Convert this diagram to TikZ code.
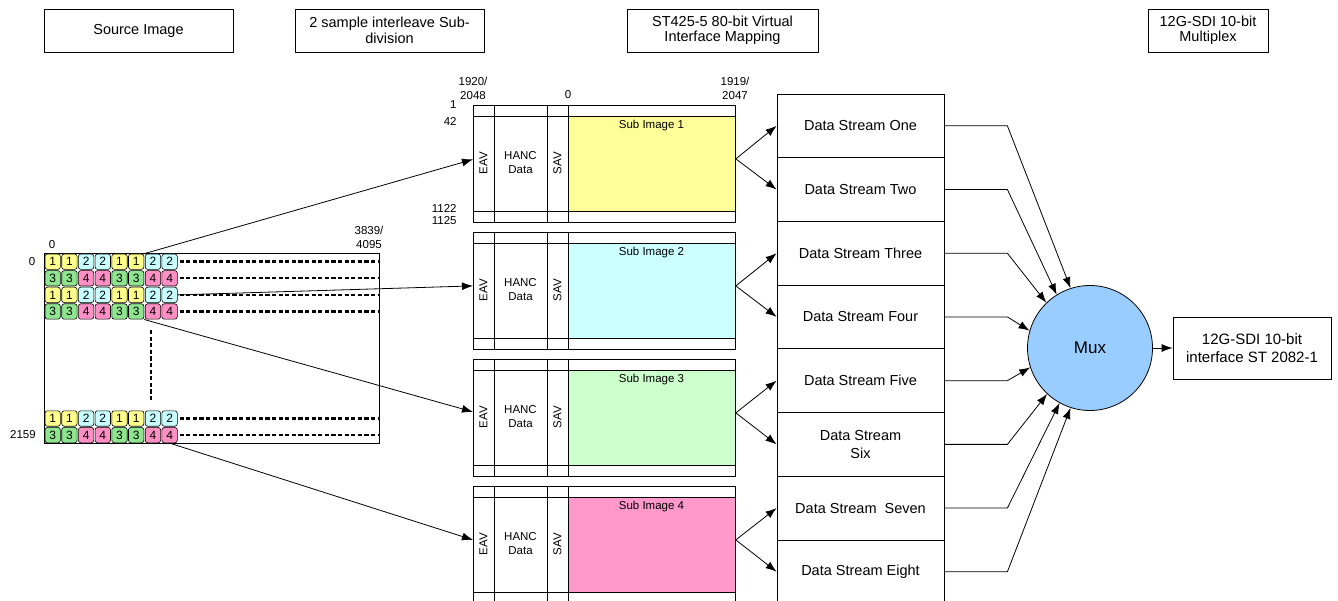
\documentclass[tikz,border=0pt]{standalone}
\usepackage{fontspec}
\setmainfont{Liberation Sans}
\usetikzlibrary{arrows.meta}
\definecolor{cc1}{HTML}{FFFF8C}
\definecolor{cc2}{HTML}{C8FFFF}
\definecolor{cc3}{HTML}{8FE48F}
\definecolor{cc4}{HTML}{FF8FC4}
\definecolor{sub1}{HTML}{FFFF99}
\definecolor{sub2}{HTML}{CCFFFF}
\definecolor{sub3}{HTML}{CCFFCC}
\definecolor{sub4}{HTML}{FF99CC}
\definecolor{muxblue}{HTML}{99CCFF}
\begin{document}
\begin{tikzpicture}[x=1pt,y=-1pt,
  every path/.style={line width=0.8pt},
  hdr/.style={draw, line width=0.8pt, minimum height=43pt, inner sep=0pt, align=center, font=\fontsize{14.5}{15.5}\selectfont},
  lbl/.style={inner sep=0pt, align=center, font=\fontsize{11.5}{14}\selectfont},
  cell/.style={draw, line width=0.6pt, rounded corners=2.5pt, minimum size=15.4pt, inner sep=0pt, font=\fontsize{12}{12}\selectfont},
  dashln/.style={line width=2.4pt, dash pattern=on 4.2pt off 2.4pt},
  frame/.style={draw, line width=0.8pt, minimum width=262pt, minimum height=117pt, anchor=north west, inner sep=0pt},
  stream/.style={draw, line width=0.8pt, minimum width=167pt, minimum height=63.7pt, inner sep=0pt, align=center, font=\fontsize{14.5}{18}\selectfont},
  arr/.style={-{Latex[length=11pt,width=8pt]}, line width=0.8pt}
]
\useasboundingbox (0,0) rectangle (1338,601);

% headers
\node[hdr, minimum width=189pt] (h1) at (138.5,30.5) {Source Image};
\node[hdr, minimum width=189pt] (h2) at (389.5,30.5) {2 sample interleave Sub-\\division};
\node[hdr, minimum width=191pt] (h3) at (722.5,30.5) {ST425-5 80-bit Virtual\\Interface Mapping};
\node[hdr, minimum width=120pt] (h4) at (1208,30.5) {12G-SDI 10-bit\\Multiplex};

% source image
\node[draw, anchor=north west, minimum width=335pt, minimum height=190pt, inner sep=0pt] (src) at (44,253) {};
\node[lbl] (l0a) at (52,245) {0};
\node[lbl] (l3839) at (369,237.5) {3839/\\4095};
\node[lbl] (l0b) at (32,262) {0};
\node[lbl] (l2159) at (23,435) {2159};

\foreach \r/\y/\base in {1/261.7/1,2/278.3/3,3/294.9/1,4/311.5/3,5/418.5/1,6/435.1/3}{
  \foreach \k in {1,...,8}{
    \pgfmathtruncatemacro{\d}{\base + mod(floor((\k-1)/2),2)}
    \node[cell, fill=cc\d] (c-\r-\k) at ({52.7+(\k-1)*16.7},\y) {\d};
  }
  \draw[dashln] ([xshift=2pt]c-\r-8.east) -- (c-\r-8.east -| src.east);
}
\draw[dashln] (151,330) -- (151,402);

% frames
\foreach \i/\col in {1/sub1,2/sub2,3/sub3,4/sub4}{
  \pgfmathsetmacro{\T}{105+(\i-1)*127}
  \fill[\col] (568,\T+11) rectangle (735,\T+106);
  \node[frame] (f\i) at (473,\T) {};
  \draw (473,\T+11) -- (735,\T+11);
  \draw (473,\T+106) -- (735,\T+106);
  \draw (494,\T) -- (494,\T+117);
  \draw (547,\T) -- (547,\T+117);
  \draw (568,\T) -- (568,\T+117);
  \node[lbl, rotate=90] (eav\i) at (483.5,\T+58) {EAV};
  \node[lbl] (hanc\i) at (520.5,\T+58) {HANC\\Data};
  \node[lbl, rotate=90] (sav\i) at (557.5,\T+58) {SAV};
  \node[lbl] (si\i) at (651.5,\T+21) {Sub Image \i};
}
\node[lbl] (t1920) at (473,88) {1920/\\2048};
\node[lbl] (t0) at (568,95) {0};
\node[lbl] (t1919) at (735,88) {1919/\\2047};
\node[lbl, anchor=east] (t1) at (457,105) {1};
\node[lbl, anchor=east] (t42) at (457,121) {42};
\node[lbl, anchor=east] (t1122) at (457,208) {1122};
\node[lbl, anchor=east] (t1125) at (457,221) {1125};

% streams
\foreach \i/\txt in {1/Data Stream One,2/Data Stream Two,3/Data Stream Three,4/Data Stream Four,5/Data Stream Five,6/{Data Stream\\Six},7/{Data Stream~ Seven},8/Data Stream Eight}{
  \node[stream] (s\i) at (860.5,{94+63.7*(\i-0.5)}) {\txt};
}

% mux and output
\node[circle, draw, fill=muxblue, minimum size=125pt, inner sep=0pt, font=\fontsize{17}{17}\selectfont] (mux) at (1090,348) {Mux};
\node[draw, minimum width=158pt, minimum height=62pt, inner sep=0pt, align=center, font=\fontsize{15}{18}\selectfont] (out) at (1252,348) {12G-SDI 10-bit\\interface ST 2082-1};

% connectors source -> frames
\draw[arr] (c-1-6.north east) -- ([yshift=4.5pt]f1.west);
\draw[arr] (c-3-8.east) -- ([yshift=5pt]f2.west);
\draw[arr] (c-4-6.south east) -- ([yshift=6pt]f3.west);
\draw[arr] (c-6-8.south) -- ([yshift=5pt]f4.west);

% frames -> streams
\foreach \i/\a/\b in {1/1/2,2/3/4,3/5/6,4/7/8}{
  \draw[arr] ([yshift=5pt]f\i.east) -- (s\a.west);
  \draw[arr] ([yshift=5pt]f\i.east) -- (s\b.west);
}

% streams -> mux
\foreach \i/\ang in {1/108.7,2/122,3/134,4/164,5/198,6/227.5,7/241.5,8/252}{
  \draw[arr] (s\i.east) -- ++(63,0) -- (mux.\ang);
}
\draw[arr] (mux) -- (out);
\end{tikzpicture}
\end{document}
